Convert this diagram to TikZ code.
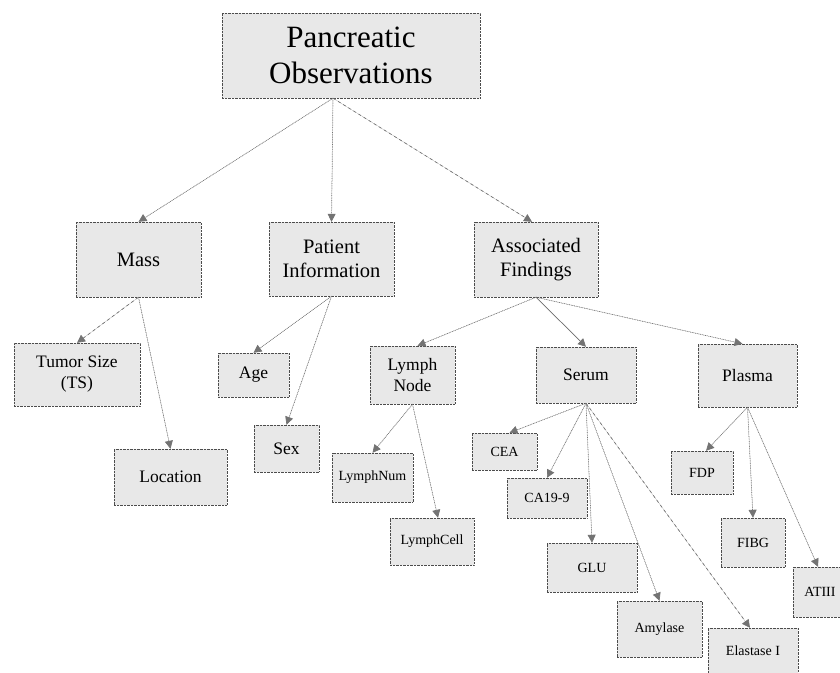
\documentclass[tikz,border=0pt]{standalone}
\usepackage{fontspec}
\setmainfont{Liberation Serif}
\newfontfamily\treefont{Liberation Serif}
\usetikzlibrary{arrows.meta}

\begin{document}
\begin{tikzpicture}[x=1pt, y=-1pt, >={Triangle[length=8pt, width=8pt]},
    box/.style={rectangle, draw=black!70, densely dotted, fill=black!9, align=center,
                inner sep=2pt, text=black},
    toplevel/.style={box, font=\treefont\fontsize{31}{36}\selectfont},
    midlevel/.style={box, font=\treefont\fontsize{20.5}{24}\selectfont},
    lowlevel/.style={box, font=\treefont\fontsize{17.5}{21}\selectfont},
    leaf/.style={box, font=\treefont\fontsize{14}{17}\selectfont},
    link/.style={->, draw=black!55, fill=black!70, densely dotted, line width=0.7pt}]

    \useasboundingbox (0,0) rectangle (840,672);

    % top
    \node[toplevel, minimum width=258pt, minimum height=85pt] (pancreas) at (351,55.5) {Pancreatic\\Observations};

    % second row
    \node[midlevel, minimum width=125pt, minimum height=75pt] (mass) at (138.5,259.5) {Mass};
    \node[midlevel, minimum width=125pt, minimum height=74pt] (patient) at (331.5,259) {Patient\\Information};
    \node[midlevel, minimum width=124pt, minimum height=75pt] (assoc) at (536,259.5) {Associated\\Findings};

    % third row
    \node[lowlevel, minimum width=126pt, minimum height=63pt] (tumor) at (77,374.5) {Tumor Size\\(TS)};
    \node[lowlevel, minimum width=113pt, minimum height=56pt] (location) at (170.5,477) {Location};
    \node[lowlevel, minimum width=71pt, minimum height=44pt] (age) at (253.5,375) {Age};
    \node[lowlevel, minimum width=65pt, minimum height=47pt] (sex) at (286.5,448.5) {Sex};
    \node[lowlevel, minimum width=85pt, minimum height=58pt] (lymph) at (412.5,375) {Lymph\\Node};
    \node[lowlevel, minimum width=100pt, minimum height=56pt] (serum) at (586,375) {Serum};
    \node[lowlevel, minimum width=99pt, minimum height=63pt] (plasma) at (747.5,375.5) {Plasma};

    % leaves
    \node[leaf, minimum width=81pt, minimum height=49pt] (lymphnum) at (372.5,477.5) {LymphNum};
    \node[leaf, minimum width=84pt, minimum height=47pt] (lymphcell) at (432,541.5) {LymphCell};
    \node[leaf, minimum width=65pt, minimum height=37pt] (cea) at (504.5,451.5) {CEA};
    \node[leaf, minimum width=80pt, minimum height=40pt] (ca199) at (547,498) {CA19-9};
    \node[leaf, minimum width=90pt, minimum height=49pt] (glu) at (592,567.5) {GLU};
    \node[leaf, minimum width=85pt, minimum height=56pt] (amylase) at (659.5,629) {Amylase};
    \node[leaf, minimum width=90pt, minimum height=46pt] (elastase) at (753,651) {Elastase I};
    \node[leaf, minimum width=62pt, minimum height=43pt] (fdp) at (702,472.5) {FDP};
    \node[leaf, minimum width=64pt, minimum height=49pt] (fibg) at (753,542.5) {FIBG};
    \node[leaf, minimum width=54pt, minimum height=50pt] (atiii) at (820,592) {ATIII};

    \draw[link] ([xshift=-18pt]pancreas.south) -- (mass.north);
    \draw[link] ([xshift=-18pt]pancreas.south) -- (patient.north);
    \draw[link, dashed] ([xshift=-18pt]pancreas.south) -- ([xshift=-4pt]assoc.north);

    \draw[link, dashed] (mass.south) -- (tumor.north);
    \draw[link] (mass.south) -- (location.north);
    \draw[link] (patient.south) -- (age.north);
    \draw[link] (patient.south) -- (sex.north);

    \draw[link] (assoc.south) -- ([xshift=5pt]lymph.north);
    \draw[link, solid] (assoc.south) -- (serum.north);
    \draw[link] (assoc.south) -- ([xshift=-5pt]plasma.north);

    \draw[link] (lymph.south) -- (lymphnum.north);
    \draw[link] (lymph.south) -- ([xshift=6pt]lymphcell.north);

    \draw[link] (serum.south) -- ([xshift=5pt]cea.north);
    \draw[link] (serum.south) -- (ca199.north);
    \draw[link] (serum.south) -- (glu.north);
    \draw[link] (serum.south) -- (amylase.north);
    \draw[link, dashed] (serum.south) -- ([xshift=-3pt]elastase.north);

    \draw[link] (plasma.south) -- ([xshift=4pt]fdp.north);
    \draw[link] (plasma.south) -- (fibg.north);
    \draw[link] (plasma.south) -- ([xshift=-2pt]atiii.north);
\end{tikzpicture}
\end{document}
